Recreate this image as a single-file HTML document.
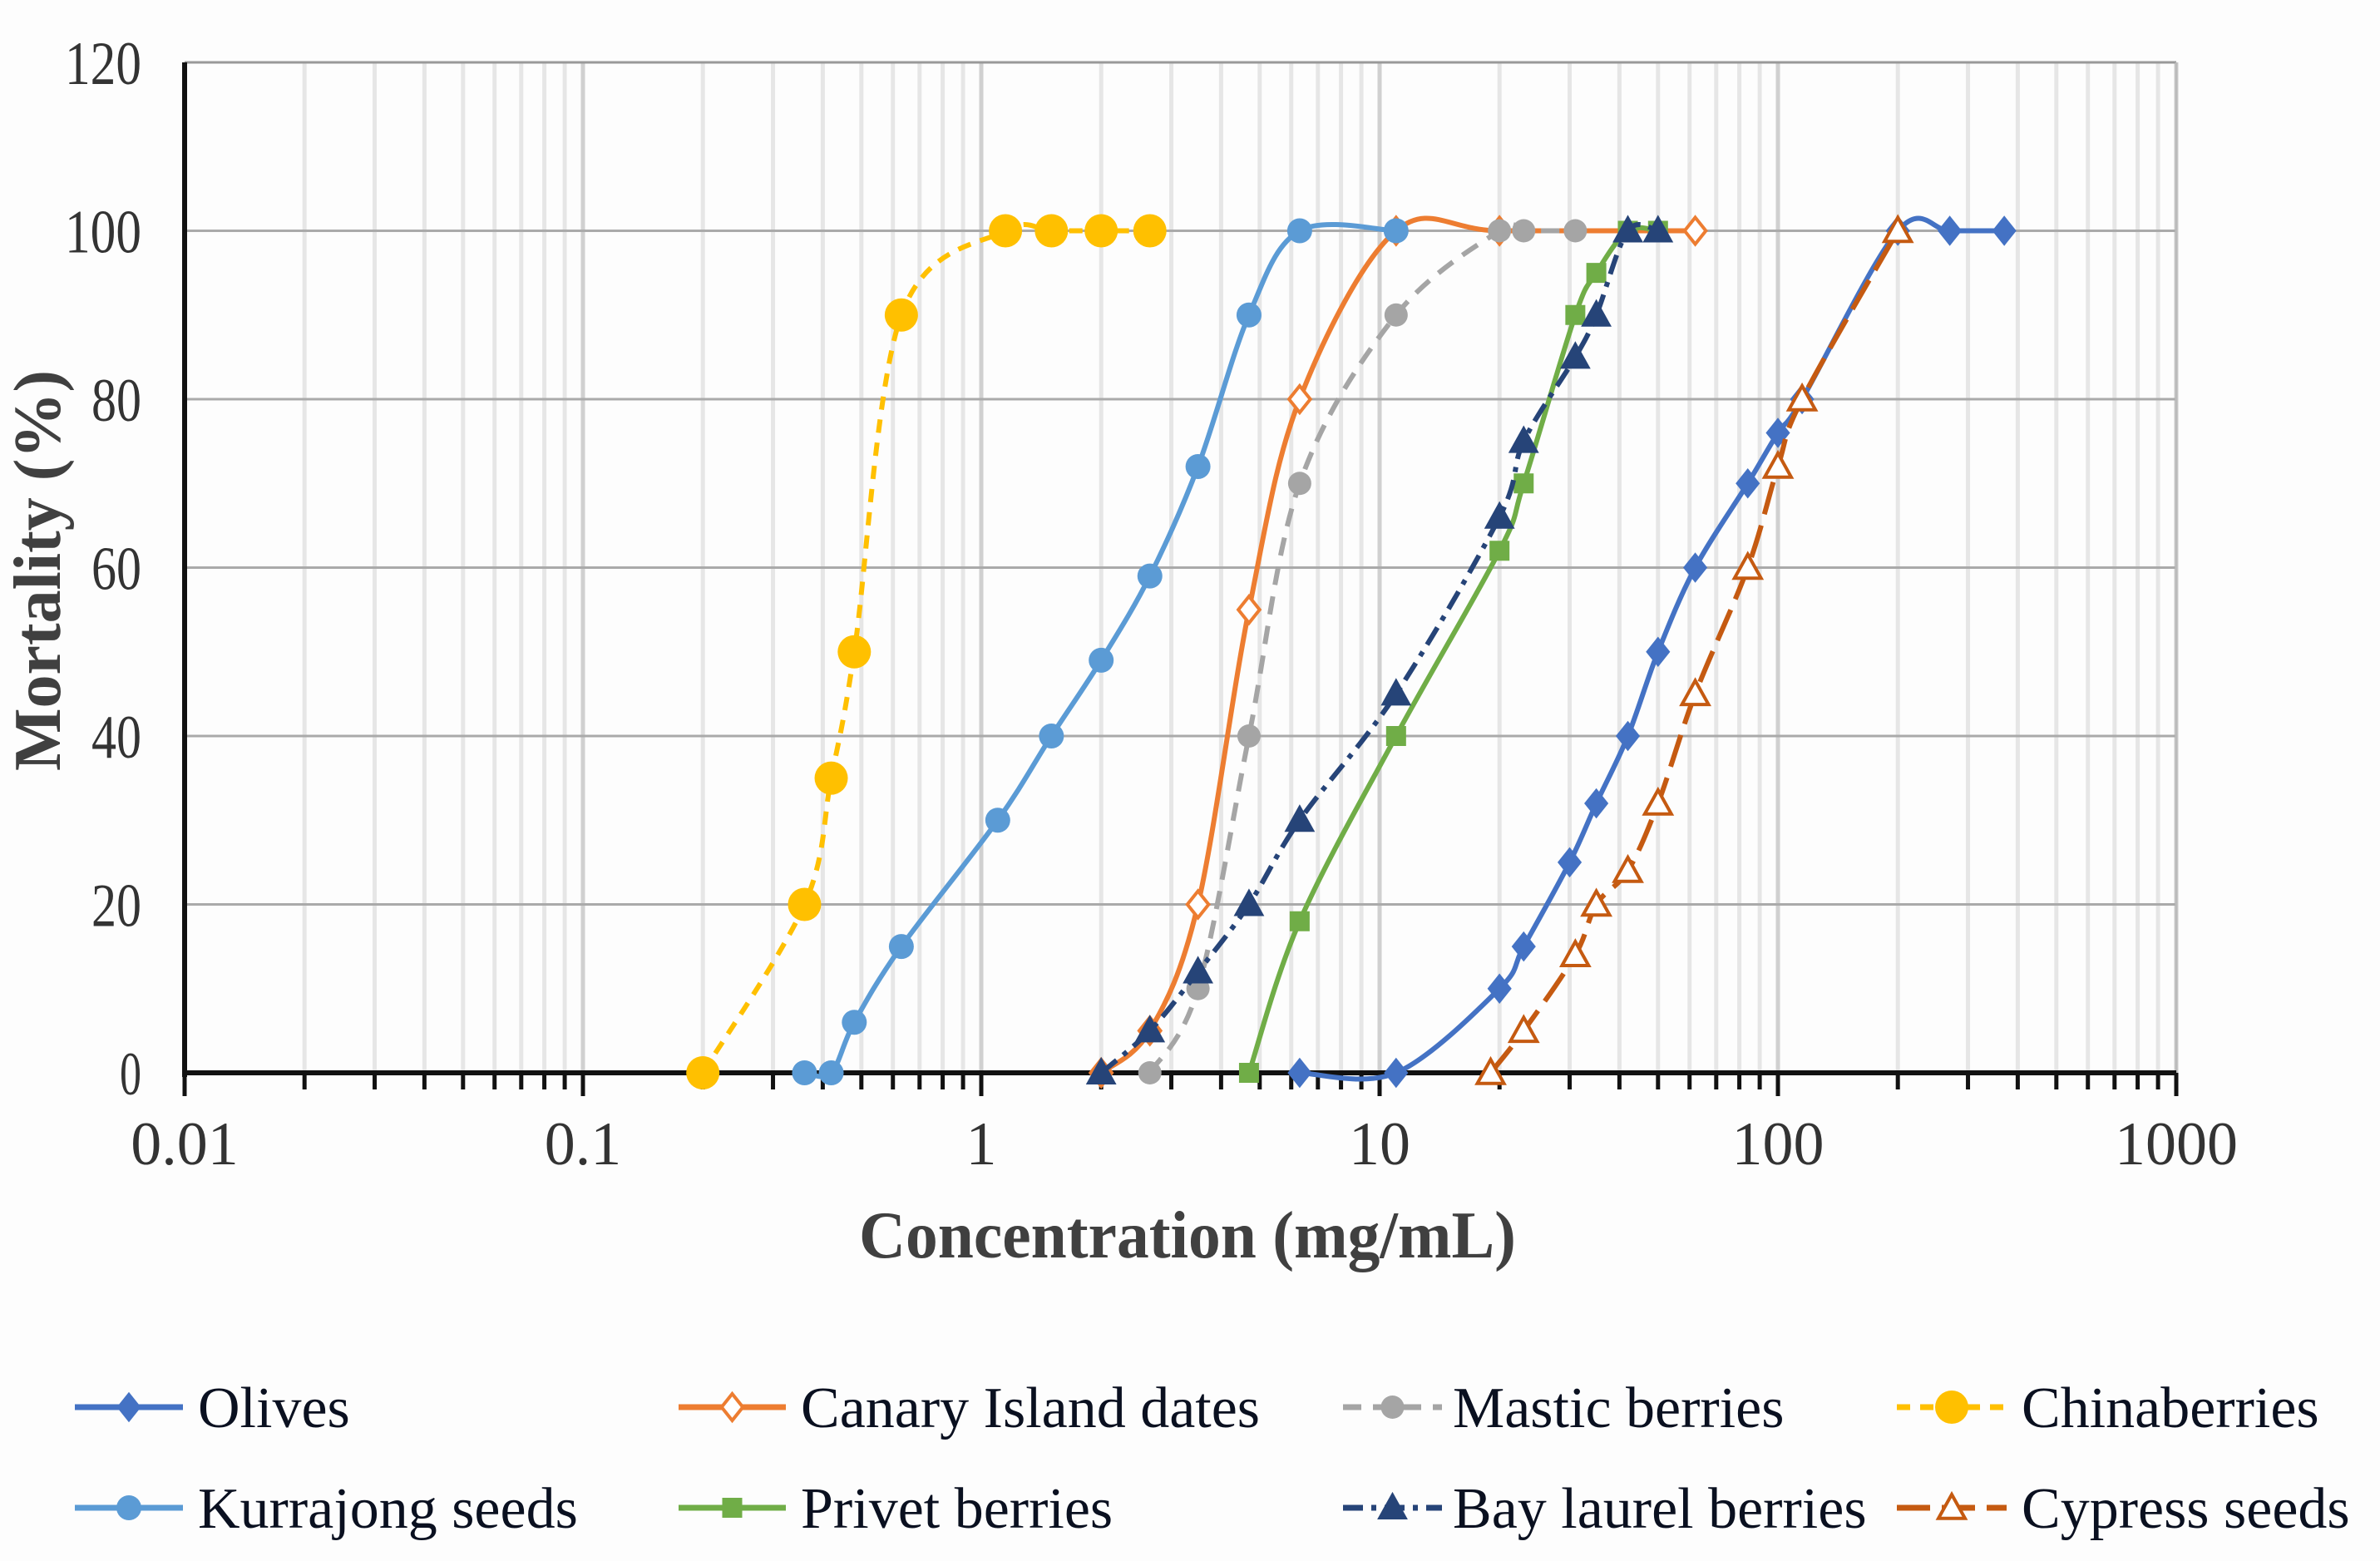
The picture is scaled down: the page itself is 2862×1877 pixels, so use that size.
<!DOCTYPE html>
<html><head><meta charset="utf-8"><style>
html,body{margin:0;padding:0;background:#fff;}
svg{display:block;font-family:"Liberation Serif",serif;}
</style></head><body>
<svg id="chart" width="2862" height="1877" viewBox="0 0 2862 1877" xmlns="http://www.w3.org/2000/svg">
<rect x="0" y="0" width="2862" height="1877" fill="#fdfdfd"/>
<g id="grid"></g><g id="axes"></g><g id="series"></g><g id="legend"></g>
<text x="1428" y="1512" text-anchor="middle" font-size="80" font-weight="bold" fill="#404040" textLength="790" lengthAdjust="spacingAndGlyphs">Concentration (mg/mL)</text>
<text transform="translate(72,686) rotate(-90)" text-anchor="middle" font-size="80" font-weight="bold" fill="#404040">Mortality (%)</text>
</svg>
<script>
const seriesNames = ["Olives","Canary Island dates","Mastic berries","Chinaberries","Kurrajong seeds","Privet berries","Bay laurel berries","Cypress seeds"];
const olivesX = [6.3,11,20,23,30,35,42,50,62,84,100,115,200,270,370];
const olivesY = [0,0,10,15,25,32,40,50,60,70,76,80,100,100,100];
const canaryX = [2,2.65,3.5,4.7,6.3,11,20,62];
const canaryY = [0,5,20,55,80,100,100,100];
const masticX = [2.65,3.5,4.7,6.3,11,20,23,31];
const masticY = [0,10,40,70,90,100,100,100];
const chinaX = [0.2,0.36,0.42,0.48,0.63,1.15,1.5,2,2.65];
const chinaY = [0,20,35,50,90,100,100,100,100];
const kurraX = [0.36,0.42,0.48,0.63,1.1,1.5,2,2.65,3.5,4.7,6.3,11];
const kurraY = [0,0,6,15,30,40,49,59,72,90,100,100];
const privetX = [4.7,6.3,11,20,23,31,35,42,50];
const privetY = [0,18,40,62,70,90,95,100,100];
const bayX = [2,2.65,3.5,4.7,6.3,11,20,23,31,35,42,50];
const bayY = [0,5,12,20,30,45,66,75,85,90,100,100];
const cypressX = [19,23,31,35,42,50,62,84,100,115,200];
const cypressY = [0,5,14,20,24,32,45,60,72,80,100];
const yTicks = [0,20,40,60,80,100,120];
const xTickLabels = ["0.01","0.1","1","10","100","1000"];

const NS="http://www.w3.org/2000/svg";
const L=222,R=2617,T=75,B=1290;
const xs=v=>L+(Math.log10(v)+2)*(R-L)/5;
const ys=v=>B-v*(B-T)/120;
function mk(tag,attrs,parent){const e=document.createElementNS(NS,tag);for(const k in attrs)e.setAttribute(k,attrs[k]);parent.appendChild(e);return e;}
const grid=document.getElementById('grid'),axes=document.getElementById('axes'),ser=document.getElementById('series'),leg=document.getElementById('legend');
for(let d=-2;d<3;d++){for(let m=1;m<=10;m++){const v=m*Math.pow(10,d);const x=xs(v);
 const g=mk('line',{x1:x,x2:x,y1:T,y2:B,stroke:m===1||m===10?'#d0d0d0':'#e6e6e6','stroke-width':5},grid);
 
 
 const t=mk('line',{x1:x,x2:x,y1:B,y2:B+(m===1||m===10?28:20),stroke:'#111','stroke-width':5},axes);
 
 
}}
yTicks.forEach(v=>{const y=ys(v);
 if(v>0){const g=mk('line',{x1:L,x2:R,y1:y,y2:y,stroke:v===120?'#999':'#aaa','stroke-width':3},grid);
 
 }
 const t=mk('text',{x:L-52,y:y+26,'text-anchor':'end','font-size':74,fill:'#333',textLength:v>=100?92:(v===0?26:60),lengthAdjust:'spacingAndGlyphs'},axes);t.textContent=v;
 
 
});
mk('line',{x1:R,x2:R,y1:T,y2:B,stroke:'#bbb','stroke-width':3},grid);
xTickLabels.forEach(s=>{const x=xs(parseFloat(s));
 const t=mk('text',{x:x,y:1400,'text-anchor':'middle','font-size':74,fill:'#333'},axes);t.textContent=s;
 
 
});
const ya=mk('line',{x1:L,x2:L,y1:T,y2:B+5,stroke:'#111','stroke-width':6},axes);


const xa=mk('line',{x1:L,x2:R,y1:B,y2:B,stroke:'#111','stroke-width':6},axes);



function smooth(pts){let d=`M${pts[0][0]},${pts[0][1]}`;
 for(let i=0;i<pts.length-1;i++){const p0=pts[i-1]||pts[i],p1=pts[i],p2=pts[i+1],p3=pts[i+2]||p2;const k=6;
  d+=` C${p1[0]+(p2[0]-p0[0])/k},${p1[1]+(p2[1]-p0[1])/k} ${p2[0]-(p3[0]-p1[0])/k},${p2[1]-(p3[1]-p1[1])/k} ${p2[0]},${p2[1]}`;}
 return d;}
function marker(type,x,y,color,size,parent){let e;
 if(type==='diamond'||type==='odiamond'){const s=size;e=mk('polygon',{points:`${x},${y-s} ${x+s*0.8},${y} ${x},${y+s} ${x-s*0.8},${y}`,fill:type==='odiamond'?'#fff':color,stroke:color,'stroke-width':4},parent);}
 else if(type==='circle'){e=mk('circle',{cx:x,cy:y,r:size,fill:color},parent);}
 else if(type==='square'){e=mk('rect',{x:x-size,y:y-size,width:2*size,height:2*size,fill:color},parent);}
 else {const s=size;e=mk('polygon',{points:`${x},${y-s} ${x+s},${y+s*0.8} ${x-s},${y+s*0.8}`,fill:type==='otri'?'#fff':color,stroke:color,'stroke-width':4},parent);}
 return e;}
const specs=[
 {xs:olivesX,ys:olivesY,c:'#4472c4',dash:'',m:'diamond',s:15},
 {xs:canaryX,ys:canaryY,c:'#ed7d31',dash:'',m:'odiamond',s:16},
 {xs:masticX,ys:masticY,c:'#a5a5a5',dash:'22 14',m:'circle',s:14},
 {xs:chinaX,ys:chinaY,c:'#ffc000',dash:'16 12',m:'circle',s:20},
 {xs:kurraX,ys:kurraY,c:'#5b9bd5',dash:'',m:'circle',s:15},
 {xs:privetX,ys:privetY,c:'#70ad47',dash:'',m:'square',s:12},
 {xs:bayX,ys:bayY,c:'#264478',dash:'24 10 6 10',m:'tri',s:15},
 {xs:cypressX,ys:cypressY,c:'#c55a11',dash:'40 14',m:'otri',s:16}];
specs.forEach((sp,i)=>{const g=mk('g',{},ser);
 
 
 const pts=sp.xs.map((v,j)=>[xs(v),ys(sp.ys[j])]);
 const p=mk('path',{d:smooth(pts),fill:'none',stroke:sp.c,'stroke-width':6,'stroke-dasharray':sp.dash},g);
 
 
 pts.forEach(pt=>{const m=marker(sp.m,pt[0],pt[1],sp.c,sp.s,g);
  
  });
});
const legPos=[[90,220,238,1692],[816,945,963,1692],[1615,1734,1747,1692],[2281,2413,2431,1692],[90,220,238,1813],[816,945,963,1813],[1615,1734,1747,1813],[2281,2413,2431,1813]];
const legOrder=[0,1,2,3,4,5,6,7];
legOrder.forEach((si,k)=>{const sp=specs[si],p=legPos[k];const g=mk('g',{},leg);
 
 
 mk('line',{x1:p[0],x2:p[1],y1:p[3],y2:p[3],stroke:sp.c,'stroke-width':7,'stroke-dasharray':sp.dash},g);
 marker(sp.m,(p[0]+p[1])/2,p[3],sp.c,sp.s,g);
 const t=mk('text',{x:p[2],y:p[3]+24,'font-size':70,fill:'#0a1020'},g);t.textContent=seriesNames[si];
});
</script>
</body></html>
